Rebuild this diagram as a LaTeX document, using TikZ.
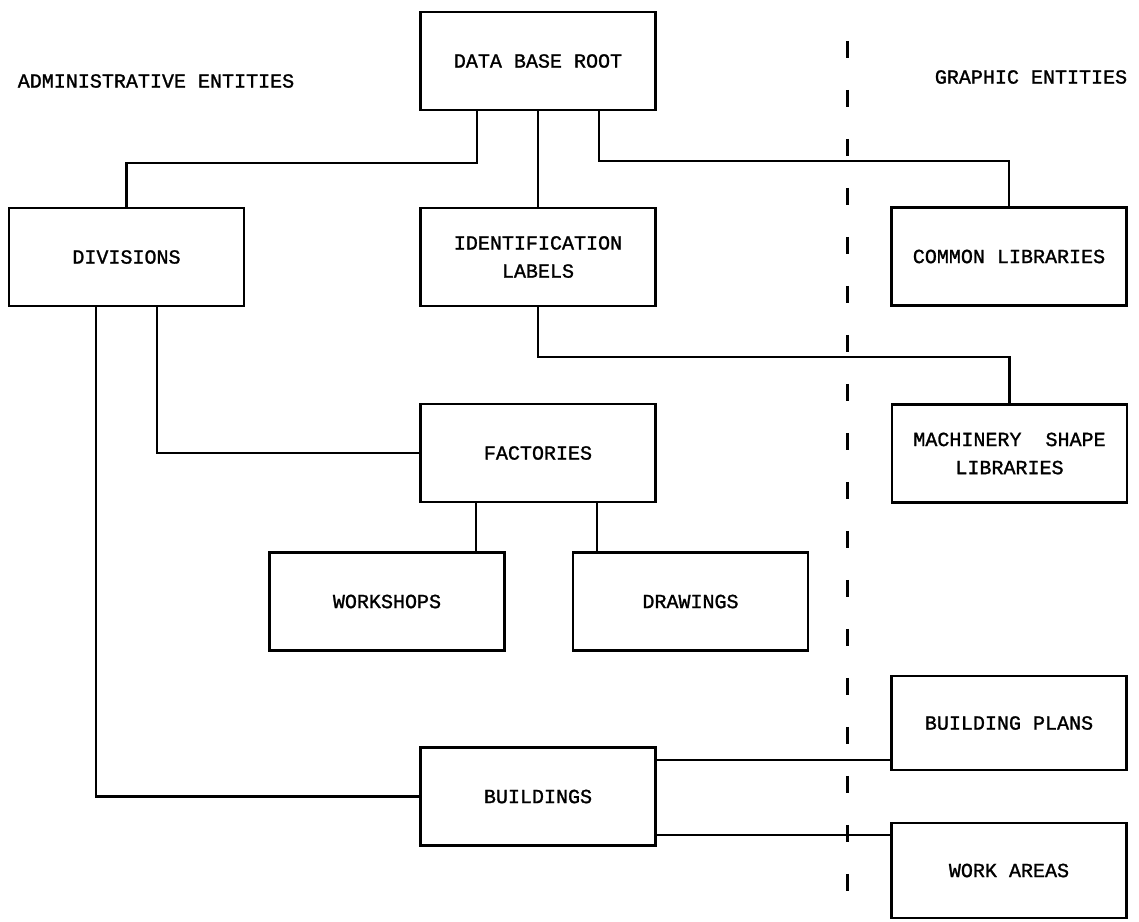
\documentclass[tikz,border=0pt]{standalone}
\usepackage{fontspec}
\newfontfamily\typew[FakeBold=1.3]{Liberation Mono}
\usetikzlibrary{calc}

\begin{document}
\begin{tikzpicture}[x=0.02cm, y=-0.02cm,
    entity/.style={draw, line width=1.3pt, minimum width=4.7cm, minimum height=1.96cm,
                   align=center, inner sep=0pt, font=\typew\fontsize{11.4pt}{16pt}\selectfont},
    heading/.style={font=\typew\fontsize{11.4pt}{16pt}\selectfont},
    link/.style={line width=1.3pt}]

    % 画布范围
    \useasboundingbox (0,0) rectangle (1139,922);

    % 两侧标题
    \node[heading] (admin) at (156,81) {ADMINISTRATIVE ENTITIES};
    \node[heading] (graphic) at (1031,77) {GRAPHIC ENTITIES};

    % 定义各个实体框
    \node[entity] (root) at (538,61) {DATA BASE ROOT};
    \node[entity] (divisions) at (126.5,257) {DIVISIONS};
    \node[entity] (ident) at (538,257) {IDENTIFICATION\\LABELS};
    \node[entity] (common) at (1009,256.5) {COMMON LIBRARIES};
    \node[entity] (machinery) at (1009.5,453.5) {MACHINERY\ \ SHAPE\\LIBRARIES};
    \node[entity] (factories) at (538,453) {FACTORIES};
    \node[entity] (workshops) at (387,601.5) {WORKSHOPS};
    \node[entity] (drawings) at (690.5,601.5) {DRAWINGS};
    \node[entity] (buildings) at (538,796.5) {BUILDINGS};
    \node[entity, minimum height=1.88cm] (plans) at (1009,723) {BUILDING PLANS};
    \node[entity, minimum height=1.9cm] (works) at (1009,870.5) {WORK AREAS};

    % 连线的出发点
    \coordinate (rootL) at ($(root.south west)!0.243!(root.south east)$);
    \coordinate (rootR) at ($(root.south west)!0.757!(root.south east)$);
    \coordinate (divL) at ($(divisions.south west)!0.371!(divisions.south east)$);
    \coordinate (divR) at ($(divisions.south west)!0.629!(divisions.south east)$);
    \coordinate (facL) at ($(factories.south west)!0.24!(factories.south east)$);
    \coordinate (facR) at ($(factories.south west)!0.75!(factories.south east)$);
    \coordinate (bldT) at ($(buildings.north east)!0.134!(buildings.south east)$);
    \coordinate (bldB) at ($(buildings.south east)!0.113!(buildings.north east)$);

    % 根节点的连线
    \draw[link] (rootL) -- ++(0,52) -| (divisions.north);
    \draw[link] (root.south) -- (ident.north);
    \draw[link] (rootR) -- ++(0,50) -| (common.north);
    \draw[link] (ident.south) -- ++(0,50) -| (machinery.north);

    % 管理实体的连线
    \draw[link] (divR) |- (factories.west);
    \draw[link] (divL) |- (buildings.west);
    \draw[link] (facL) -- (facL |- workshops.north);
    \draw[link] (facR) -- (facR |- drawings.north);

    % 图形实体的连线
    \draw[link] (bldT) -- (bldT -| plans.west);
    \draw[link] (bldB) -- (bldB -| works.west);

    % 分隔虚线
    \coordinate (sepTop) at (847,41);
    \coordinate (sepBot) at (847,940);
    \draw[line width=1.7pt, dash pattern=on 0.34cm off 0.64cm] (sepTop) -- (sepBot);

\end{tikzpicture}
\end{document}
